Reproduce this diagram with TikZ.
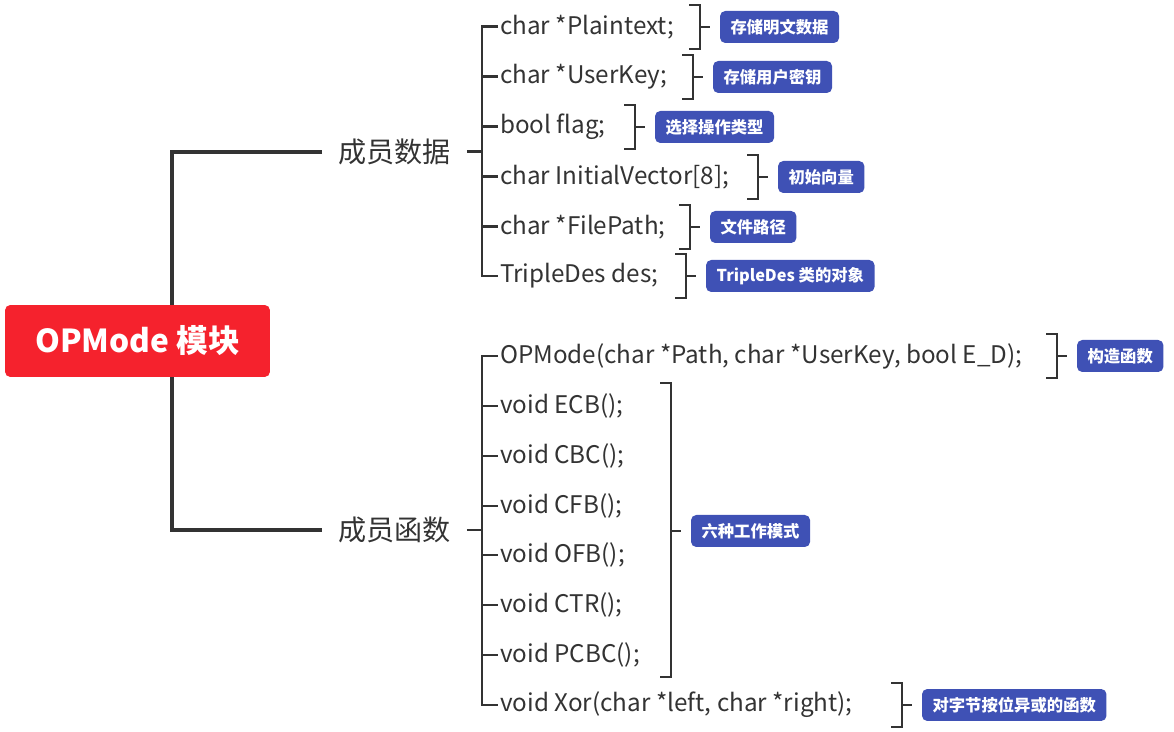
\documentclass[tikz,border=0pt]{standalone}
\usepackage{fontspec}
\setmainfont{Noto Sans CJK SC}
\usetikzlibrary{positioning}
\definecolor{rootred}{RGB}{245,34,45}
\definecolor{noteblue}{RGB}{63,81,181}
\definecolor{ink}{RGB}{51,51,51}

\begin{document}
\begin{tikzpicture}[x=0.02cm,y=-0.02cm,
  root/.style={fill=rootred,rounded corners=3pt,text=white,font=\fontsize{18}{21}\selectfont\bfseries,
    minimum width=5.3cm,minimum height=1.44cm,inner sep=0pt},
  grp/.style={anchor=west,text=ink,font=\fontsize{16}{19}\selectfont,inner xsep=9pt,inner ysep=2pt},
  item/.style={anchor=west,text=ink,font=\fontsize{13.8}{16}\selectfont,inner xsep=1pt,inner ysep=1pt},
  note/.style={anchor=west,fill=noteblue,rounded corners=3pt,text=white,font=\fontsize{9.3}{11}\selectfont\bfseries,
    minimum height=0.64cm,inner xsep=6pt,outer xsep=0.2cm},
  trunk/.style={draw=ink,line width=2.3pt},
  twig/.style={draw=ink,line width=1.7pt},
  brk/.style={draw=ink,line width=1.4pt}]
\useasboundingbox (0,0) rectangle (1174,732);

\coordinate (spine) at (172,0);
\coordinate (sp) at (482,0);

% groups
\node[grp] (g1) at (322,152) {成员数据};
\node[grp] (g2) at (322,530) {成员函数};
\draw[trunk] (g1.west) -- (g1.west -| spine) -- (g2.west -| spine) -- (g2.west);
\node[root] (root) at (137.5,341) {OPMode 模块};

% data members
\node[item] (d1) at (498,27) {char *Plaintext;};
\node[item] (d2) at (498,77) {char *UserKey;};
\node[item] (d3) at (498,127) {bool flag;};
\node[item] (d4) at (498,177) {char InitialVector[8];};
\node[item] (d5) at (498,227) {char *FilePath;};
\node[item] (d6) at (498,276) {TripleDes des;};
\draw[twig] (g1.east) -- (g1.east -| sp);
\draw[twig] (d1.west) -| (d6.west -| sp) -- (d6.west);
\foreach \i in {2,...,5}
  \draw[twig] (d\i.west -| sp) -- (d\i.west);

% member functions
\node[item] (f1) at (498,356) {OPMode(char *Path, char *UserKey, bool E\_D);};
\node[item] (f2) at (498,406) {void ECB();};
\node[item] (f3) at (498,456) {void CBC();};
\node[item] (f4) at (498,506) {void CFB();};
\node[item] (f5) at (498,555) {void OFB();};
\node[item] (f6) at (498,605) {void CTR();};
\node[item] (f7) at (498,655) {void PCBC();};
\node[item] (f8) at (498,705) {void Xor(char *left, char *right);};
\draw[twig] (g2.east) -- (g2.east -| sp);
\draw[twig] (f1.west) -| (f8.west -| sp) -- (f8.west);
\foreach \i in {2,...,7}
  \draw[twig] (f\i.west -| sp) -- (f\i.west);

% notes
\foreach \bx/\by/\lab [count=\i] in {700/27/存储明文数据, 693/77/存储用户密钥, 635/127/选择操作类型,
    758/177/初始向量, 690/227/文件路径, 686/276/TripleDes 类的对象, 1057/356/构造函数, 902/705/对字节按位异或的函数}{
  \draw[brk] (\bx-11,\by-22) -| (\bx,\by+22) -- (\bx-11,\by+22);
  \coordinate (bk\i) at (\bx,\by);
  \node[note] (n\i) at (\bx+10,\by) {\lab};
  \draw[brk] (bk\i) -- (n\i.west);
}
\draw[brk] (660,383) -| (671,677) -- (660,677);
\coordinate (bkm) at (671,531);
\node[note] (nm) at (681,531) {六种工作模式};
\draw[brk] (bkm) -- (nm.west);
\end{tikzpicture}
\end{document}
